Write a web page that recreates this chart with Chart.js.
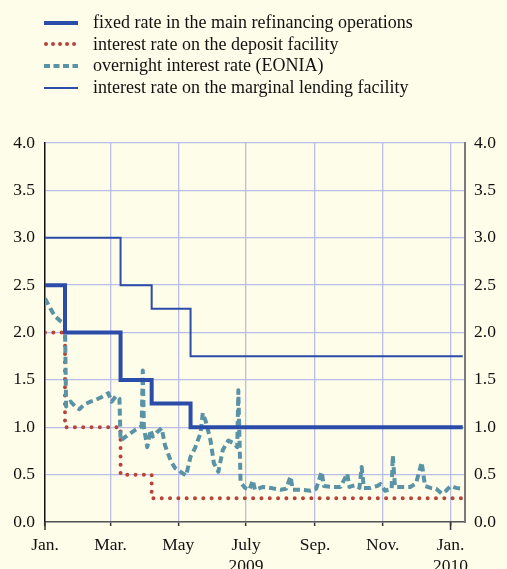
<!DOCTYPE html>
<html>
<head>
<meta charset="utf-8">
<script src="https://cdn.jsdelivr.net/npm/chart.js@4"></script>
<style>
  html, body { margin: 0; padding: 0; background: #fefde9; }
  #wrap { position: relative; width: 507px; height: 569px; overflow: hidden; }
  #legend { position: absolute; left: 43px; top: 12px; font: 18px "Liberation Serif", serif; color: #111; }
  #legend .row { height: 21.6px; display: flex; align-items: center; }
  #legend svg { width: 36px; height: 8px; margin-right: 14px; }
</style>
</head>
<body>
<div id="wrap">
  <canvas id="chart" width="507" height="569"></canvas>
  <div id="legend"></div>
</div>
<script>
// days counted from 1 Jan 2009
const tickDays = [0, 59, 120, 181, 243, 304, 365];
const tickLabels = ["Jan.", "Mar.", "May", ["July", "2009"], "Sep.", "Nov.", ["Jan.", "2010"]];

const mroDays = [0, 18, 68, 96, 131, 376];
const mroRates = [2.5, 2.0, 1.5, 1.25, 1.0, 1.0];

const depositDays = [0, 18, 68, 96, 376];
const depositRates = [2.0, 1.0, 0.5, 0.25, 0.25];

const lendingDays = [0, 68, 96, 131, 376];
const lendingRates = [3.0, 2.5, 2.25, 1.75, 1.75];

const eoniaDays = [0, 5, 9, 14, 18, 19, 23, 28, 31, 35, 41, 46, 51, 57, 60, 64, 67, 68, 75, 81,
  87, 88, 89, 92, 95, 97, 101, 105, 108, 113, 117, 122, 127, 131, 135, 140, 142, 145, 149, 152,
  156, 160, 165, 170, 173, 174, 176, 180, 184, 187, 189, 196, 203, 212, 217, 221, 223, 230, 239, 244,
  249, 251, 259, 266, 272, 274, 279, 283, 285, 287, 293, 299, 302, 306, 312, 313, 315, 322, 329, 334,
  339, 342, 347, 352, 357, 361, 365, 370, 376];
const eoniaRates = [2.36, 2.25, 2.17, 2.12, 2.09, 1.22, 1.27, 1.21, 1.19, 1.24, 1.27, 1.29, 1.32, 1.36, 1.27, 1.33, 1.30, 0.86, 0.92, 0.97,
  1.01, 1.60, 1.00, 0.79, 0.97, 0.90, 0.95, 0.99, 0.81, 0.65, 0.57, 0.53, 0.49, 0.69, 0.78, 0.94, 1.15, 1.05, 0.86, 0.62,
  0.53, 0.76, 0.86, 0.83, 0.79, 1.39, 0.42, 0.36, 0.34, 0.44, 0.34, 0.37, 0.36, 0.34, 0.35, 0.48, 0.34, 0.34, 0.33, 0.35,
  0.53, 0.38, 0.37, 0.37, 0.51, 0.37, 0.39, 0.36, 0.58, 0.36, 0.36, 0.38, 0.40, 0.33, 0.35, 0.70, 0.37, 0.37, 0.37, 0.41,
  0.63, 0.38, 0.36, 0.35, 0.30, 0.33, 0.38, 0.36, 0.35];

const BLUE = "#2b4ca8";
const RED = "#b8433a";
const TEAL = "#5b93a6";
const GRID = "#b9bde8";
const FONT = "Liberation Serif";

function toPoints(days, values) {
  return days.map((d, i) => ({ x: d, y: values[i] }));
}

const series = [
  { label: "fixed rate in the main refinancing operations", data: toPoints(mroDays, mroRates),
    borderColor: BLUE, borderWidth: 4, stepped: true, order: 1 },
  { label: "interest rate on the deposit facility", data: toPoints(depositDays, depositRates),
    borderColor: RED, borderWidth: 4, borderDash: [0.01, 8.3], borderCapStyle: "round", stepped: true, order: 3 },
  { label: "overnight interest rate (EONIA)", data: toPoints(eoniaDays, eoniaRates),
    borderColor: TEAL, borderWidth: 4, borderDash: [7, 4], borderJoinStyle: "round", order: 2 },
  { label: "interest rate on the marginal lending facility", data: toPoints(lendingDays, lendingRates),
    borderColor: BLUE, borderWidth: 2, stepped: true, order: 0 },
];

// legend in html
const legendSamples = [
  '<line x1="1" y1="4" x2="35" y2="4" stroke="' + BLUE + '" stroke-width="4"/>',
  '<line x1="3" y1="4" x2="35" y2="4" stroke="' + RED + '" stroke-width="4" stroke-linecap="round" stroke-dasharray="0.01 7"/>',
  '<line x1="1" y1="4" x2="35" y2="4" stroke="' + TEAL + '" stroke-width="4" stroke-dasharray="6 3.5"/>',
  '<line x1="1" y1="4" x2="35" y2="4" stroke="' + BLUE + '" stroke-width="2"/>',
];
document.getElementById("legend").innerHTML = series.map((s, i) =>
  '<div class="row"><svg viewBox="0 0 36 8">' + legendSamples[i] + '</svg><span>' + s.label + '</span></div>'
).join("");

const paperBg = {
  id: "paperBg",
  beforeDraw(chart) {
    const g = chart.ctx;
    g.save();
    g.fillStyle = "#fefde9";
    g.fillRect(0, 0, chart.width, chart.height);
    g.restore();
  },
  afterDraw(chart) {
    // longer tick at the year boundary and at the origin
    const g = chart.ctx;
    const x = chart.scales.x;
    const bottom = chart.chartArea.bottom;
    g.save();
    g.strokeStyle = "#333";
    g.lineWidth = 1.5;
    [0, 365].forEach((d) => {
      const px = x.getPixelForValue(d);
      g.beginPath();
      g.moveTo(px, bottom);
      g.lineTo(px, bottom + 8);
      g.stroke();
    });
    g.restore();
  },
};

const yTicks = {
  color: "#111",
  font: { family: FONT, size: 17.5 },
  stepSize: 0.5,
  callback: (v) => v.toFixed(1),
};

new Chart(document.getElementById("chart"), {
  type: "line",
  data: { datasets: series.map((s) => Object.assign({ pointRadius: 0, fill: false, tension: 0 }, s)) },
  options: {
    responsive: false,
    animation: false,
    layout: { padding: { top: 143, left: 0, right: 0, bottom: 0 } },
    plugins: { legend: { display: false }, tooltip: { enabled: false } },
    scales: {
      x: {
        type: "linear",
        min: 0,
        max: 378,
        afterBuildTicks: (scale) => { scale.ticks = tickDays.map((v) => ({ value: v })); },
        afterFit: (scale) => { scale.height = 47; },
        grid: {
          color: (c) => (c.tick && c.tick.value === 0 ? "rgba(0,0,0,0)" : GRID),
          lineWidth: 1.3,
          drawTicks: true,
          tickLength: 4,
          tickColor: "#333",
          tickWidth: 1.5,
        },
        border: { color: "#555", width: 1.5 },
        ticks: {
          autoSkip: false,
          maxRotation: 0,
          padding: 8.5,
          color: "#111",
          font: { family: FONT, size: 17.5, lineHeight: 1.2 },
          callback: (v, i) => tickLabels[i],
        },
      },
      y: {
        position: "left",
        min: 0,
        max: 4,
        afterFit: (scale) => { scale.width = 45; },
        grid: { color: GRID, lineWidth: 1.3, drawTicks: false },
        border: { color: "#111", width: 1.5 },
        ticks: Object.assign({ padding: 10 }, yTicks),
      },
      y2: {
        position: "right",
        min: 0,
        max: 4,
        afterFit: (scale) => { scale.width = 42; },
        grid: { display: false, drawTicks: false },
        border: { color: "#7a7a7a", width: 2 },
        ticks: Object.assign({ padding: 9 }, yTicks),
      },
    },
  },
  plugins: [paperBg],
});
</script>
</body>
</html>
